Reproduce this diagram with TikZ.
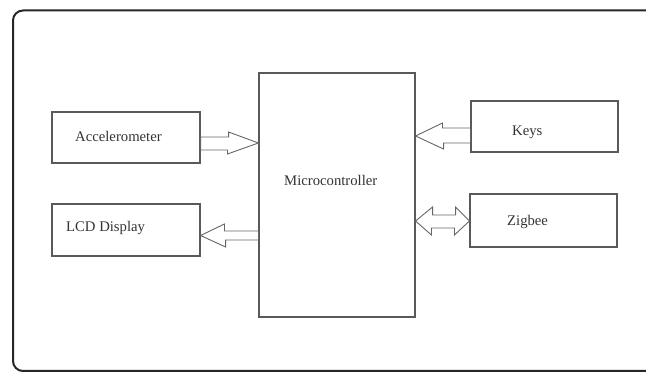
\documentclass[tikz,border=0pt]{standalone}
\usepackage{fontspec}
\setmainfont{Liberation Serif}
\usetikzlibrary{calc}
\tikzset{
  blockbox/.style={draw=black!65, line width=1.1pt, minimum width=#1, inner sep=0pt},
  lbl/.style={anchor=west, inner sep=0pt, text=black!80, font=\fontsize{14.7}{16}\selectfont},
  barrow/.style={draw=black!60, line width=0.9pt, line join=miter, fill=white},
  frame/.style={draw=black!85, line width=2pt, rounded corners=10pt}
}
\begin{document}
\begin{tikzpicture}[x=1pt,y=-1pt]
\useasboundingbox (0,0) rectangle (646,374);
\begin{scope}
\clip (0,0) rectangle (646,374);
\draw[frame] (670,10.5) -- (13,10.5) -- (13,371) -- (670,371);
\end{scope}
% boxes
\node[blockbox=148pt, minimum height=51pt] (acc) at (126,137.5) {};
\node[blockbox=148pt, minimum height=52pt] (lcd) at (126,230) {};
\node[blockbox=156pt, minimum height=244pt] (mc) at (337,195) {};
\node[blockbox=147pt, minimum height=51pt] (keys) at (544.5,126.5) {};
\node[blockbox=147pt, minimum height=53pt] (zig) at (543.5,220.5) {};
% labels
\node[lbl] (accl) at (75,136) {Accelerometer};
\node[lbl] (lcdl) at (66,228) {LCD Display};
\node[lbl] (mcl) at (284,180) {Microcontroller};
\node[lbl] (keysl) at (512,132) {Keys};
\node[lbl] (zigl) at (507,222) {Zigbee};
% block arrows
\draw[barrow] (acc.east |- 0,137) -- ++(28,0) -- ++(0,-5) -- (mc.west |- 0,143) -- ++(-31,11) -- ++(0,-4) -- (acc.east |- 0,150) -- cycle;
\draw[barrow] (mc.west |- 0,231) -- ++(-34,0) -- ++(0,-7) -- (lcd.east |- 0,235.5) -- ++(25,11.5) -- ++(0,-7) -- (mc.west |- 0,240) -- cycle;
\draw[barrow] (keys.west |- 0,128) -- ++(-28,0) -- ++(0,-5) -- (mc.east |- 0,136) -- ++(28,13) -- ++(0,-6) -- (keys.west |- 0,143) -- cycle;
\draw[barrow] (mc.east |- 0,221) -- ++(17,-14) -- ++(0,8) -- ++(23,0) -- ++(0,-8) -- (zig.west |- 0,221) -- ++(-15,14) -- ++(0,-7) -- ++(-23,0) -- ++(0,7) -- cycle;
\end{tikzpicture}
\end{document}
